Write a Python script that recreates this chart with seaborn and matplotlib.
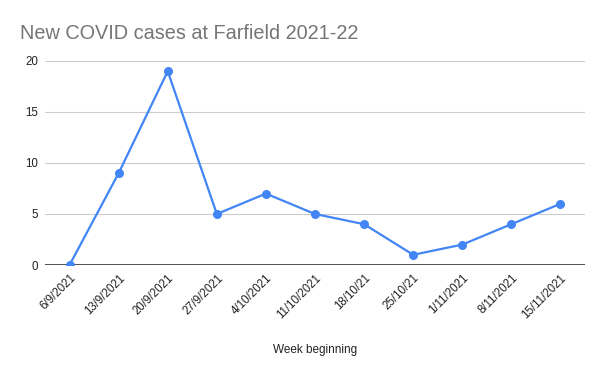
import matplotlib
matplotlib.use("Agg")
import matplotlib.pyplot as plt
import pandas as pd
import seaborn as sns

weeks = ["6/9/2021", "13/9/2021", "20/9/2021", "27/9/2021", "4/10/2021", "11/10/2021",
         "18/10/21", "25/10/21", "1/11/2021", "8/11/2021", "15/11/2021"]
cases = [0, 9, 19, 5, 7, 5, 4, 1, 2, 4, 6]
y_ticks = [0, 5, 10, 15, 20]

df = pd.DataFrame({"week": weeks, "cases": cases})

sns.set_style("white")
plt.rcParams['font.family'] = ['Liberation Sans', 'DejaVu Sans']

fig = plt.figure(figsize=(6, 3.71), dpi=100)
ax = fig.add_axes([0.075, 0.2857, 0.9, 0.55])

sns.lineplot(x="week", y="cases", data=df, ax=ax, color="#4285F4", linewidth=1.6,
             marker="o", markersize=6.5, markeredgewidth=0, sort=False)

ax.set_xlim(-0.5, len(weeks) - 0.5)
ax.set_ylim(0, 20)
ax.set_yticks(y_ticks)
ax.yaxis.grid(True, color="#cccccc", linewidth=0.8)
ax.set_axisbelow(True)
for s in ["top", "right", "left", "bottom"]:
    ax.spines[s].set_visible(False)
ax.axhline(0, color="#333333", linewidth=1.2, zorder=1)

ax.tick_params(axis="both", length=0, labelsize=8.3, colors="#222222")
ax.tick_params(axis="y", pad=5)
ax.tick_params(axis="x", pad=5)
plt.setp(ax.get_xticklabels(), rotation=45, ha="right", rotation_mode="anchor")
ax.set_xlabel("Week beginning", fontsize=8.5, color="#222222", labelpad=17)
ax.set_ylabel("")

fig.text(0.033, 0.895, "New COVID cases at Farfield 2021-22", fontsize=14.3, color="#757575")

fig.savefig("out.png", dpi=100)
